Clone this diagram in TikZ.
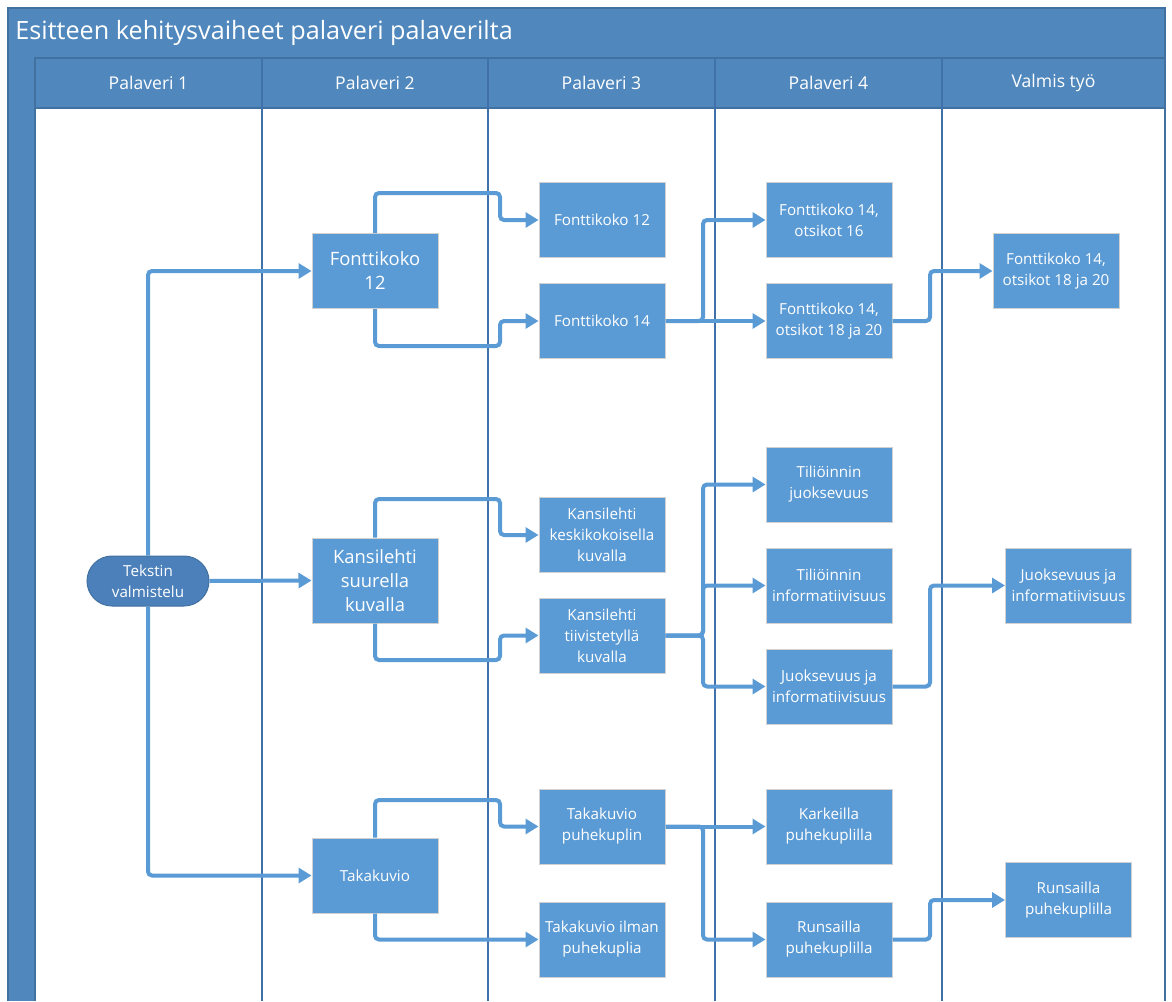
\documentclass[tikz,border=0pt]{standalone}
\usepackage{fontspec}
\setmainfont{Open Sans}
\usetikzlibrary{arrows.meta,shapes.misc,calc}
\definecolor{hdr}{RGB}{80,136,189}
\definecolor{hdrline}{RGB}{65,113,160}
\definecolor{nodeblue}{RGB}{91,155,213}
\definecolor{ovalblue}{RGB}{76,128,186}
\definecolor{laneline}{RGB}{65,113,170}
\begin{document}
\begin{tikzpicture}[x=0.5pt,y=-0.5pt,
  box/.style={rectangle,fill=nodeblue,draw=black!18,line width=0.5pt,text=white,
    minimum width=63pt,minimum height=37.5pt,align=center,inner sep=1pt,
    font=\fontsize{7.6}{10.5}\selectfont},
  bigbox/.style={box,font=\fontsize{9.2}{12}\selectfont},
  oval/.style={rounded rectangle,fill=ovalblue,draw=hdrline,line width=0.5pt,text=white,
    minimum width=63pt,minimum height=25pt,align=center,inner sep=1pt,
    font=\fontsize{7.6}{10.5}\selectfont},
  conn/.style={draw=nodeblue,line width=2pt,rounded corners=2pt,
    -{Triangle[length=6.5pt,width=7.5pt]}},
  lane/.style={draw=laneline,line width=0.7pt},
  hdrtext/.style={text=white,font=\fontsize{8.8}{10}\selectfont}]
\useasboundingbox (0,0) rectangle (1172,1001);
\fill[white] (0,0) rectangle (1172,1001);
% frame
\fill[hdr] (8,8) rectangle (1165,58);
\fill[hdr] (8,58) rectangle (35,1001);
\fill[hdr] (35,58) rectangle (1165,108);
\draw[hdrline,line width=0.6pt] (8,1001) -- (8,8) -- (1165,8) -- (1165,1001);
\draw[hdrline,line width=0.6pt] (35,1001) -- (35,58) -- (1165,58);
\draw[hdrline,line width=0.6pt] (35,108) -- (1165,108);
\foreach \x in {262,488,715,942} \draw[lane] (\x,58) -- (\x,1001);
\node[anchor=west,text=white,font=\fontsize{12.6}{14}\selectfont,inner sep=0pt] (title) at (15,33) {Esitteen kehitysvaiheet palaveri palaverilta};
\node[hdrtext] (h1) at (148.5,83) {Palaveri 1};
\node[hdrtext] (h2) at (375,83) {Palaveri 2};
\node[hdrtext] (h3) at (601.5,83) {Palaveri 3};
\node[hdrtext] (h4) at (828.5,83) {Palaveri 4};
\node[hdrtext] (h5) at (1053.5,83) {Valmis työ};
% nodes
\node[oval] (start) at (148,581) {Tekstin\\valmistelu};
\node[bigbox] (p2a) at (375,271) {Fonttikoko\\12};
\node[bigbox,minimum height=42.5pt] (p2b) at (375,580.5) {Kansilehti\\suurella\\kuvalla};
\node[box] (p2c) at (375,875.5) {Takakuvio};
\node[box] (p3a) at (602,220) {Fonttikoko 12};
\node[box] (p3b) at (602,321) {Fonttikoko 14};
\node[box] (p3c) at (602,535) {Kansilehti\\keskikokoisella\\kuvalla};
\node[box] (p3d) at (602,635.5) {Kansilehti\\tiivistetyllä\\kuvalla};
\node[box] (p3e) at (602,826.5) {Takakuvio\\puhekuplin};
\node[box] (p3f) at (602,939.5) {Takakuvio ilman\\puhekuplia};
\node[box] (p4a) at (829,220) {Fonttikoko 14,\\otsikot 16};
\node[box] (p4b) at (829,321) {Fonttikoko 14,\\otsikot 18 ja 20};
\node[box] (p4c) at (829,484.5) {Tiliöinnin\\juoksevuus};
\node[box] (p4d) at (829,585.5) {Tiliöinnin\\informatiivisuus};
\node[box] (p4e) at (829,686.5) {Juoksevuus ja\\informatiivisuus};
\node[box] (p4f) at (829,826.5) {Karkeilla\\puhekuplilla};
\node[box] (p4g) at (829,939.5) {Runsailla\\puhekuplilla};
\node[box] (v1) at (1056,271) {Fonttikoko 14,\\otsikot 18 ja 20};
\node[box] (v2) at (1068.5,585.5) {Juoksevuus ja\\informatiivisuus};
\node[box] (v3) at (1068.5,900) {Runsailla\\puhekuplilla};
% connectors from start
\draw[conn] (start.north) |- (p2a.west);
\draw[conn] (start.east) -- (p2b.west);
\draw[conn] (start.south) |- (p2c.west);
% from P2
\draw[conn] (p2a.north) |- (500,193) |- (p3a.west);
\draw[conn] (p2a.south) |- (500,346) |- (p3b.west);
\draw[conn] (p2b.north) |- (500,499) |- (p3c.west);
\draw[conn] (p2b.south) |- (500,660) |- (p3d.west);
\draw[conn] (p2c.north) |- (500,800) |- (p3e.west);
\draw[conn] (p2c.south) |- (p3f.west);
% from P3
\draw[conn] (p3b.east) -- (p4b.west);
\draw[conn] (p3b.east) -| (703,300) |- (p4a.west);
\draw[conn] (p3d.east) -| (703,600) |- (p4c.west);
\draw[conn] (p3d.east) -| (703,600) |- (p4d.west);
\draw[conn] (p3d.east) -| (703,660) |- (p4e.west);
\draw[conn] (p3e.east) -- (p4f.west);
\draw[conn] (p3e.east) -| (703,880) |- (p4g.west);
% from P4
\draw[conn] (p4b.east) -| (930,300) |- (v1.west);
\draw[conn] (p4e.east) -| (930,640) |- (v2.west);
\draw[conn] (p4g.east) -| (930,920) |- (v3.west);
\end{tikzpicture}
\end{document}
